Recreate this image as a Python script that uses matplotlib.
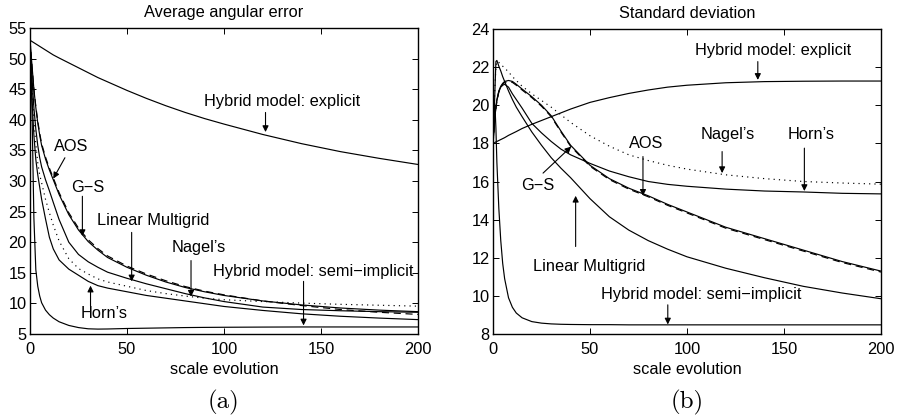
import matplotlib
matplotlib.use("Agg")
import matplotlib.pyplot as plt

plt.rcParams['font.family'] = ['Liberation Sans', 'DejaVu Sans']

# ---------------- data ----------------
x = [0, 0.5, 1, 1.5, 2, 3, 4, 5, 6, 8, 10, 12, 15, 20, 25, 30, 35, 40,
     50, 60, 70, 80, 90, 100, 120, 140, 160, 180, 200]

# (a) Average angular error
aae_explicit = [53.0, 52.9, 52.8, 52.7, 52.6, 52.4, 52.2, 52.0, 51.8, 51.4, 51.0, 50.6, 50.1, 49.3, 48.5, 47.7, 46.9, 46.2,
                44.8, 43.5, 42.3, 41.2, 40.2, 39.3, 37.6, 36.1, 34.8, 33.7, 32.7]
aae_aos = [53.0, 51.0, 49.0, 47.0, 45.0, 42.0, 39.5, 37.5, 35.8, 33.6, 31.8, 30.2, 27.8, 24.5, 22.0, 20.1, 18.7, 17.5,
           15.9, 14.6, 13.5, 12.6, 11.9, 11.3, 10.4, 9.75, 9.25, 8.9, 8.65]
aae_gs = [53.0, 51.0, 49.0, 47.0, 45.0, 42.2, 39.8, 37.8, 36.1, 33.9, 32.1, 30.5, 28.1, 24.8, 22.3, 20.4, 18.95, 17.75,
          16.1, 14.8, 13.7, 12.75, 12.0, 11.4, 10.4, 9.65, 9.0, 8.55, 8.2]
aae_lm = [53.0, 50.0, 47.0, 44.5, 42.0, 38.5, 35.8, 33.8, 32.3, 30.2, 28.4, 26.5, 23.7, 20.0, 18.0, 16.8, 15.9, 15.1,
          14.1, 13.2, 12.4, 11.6, 10.9, 10.3, 9.4, 9.0, 8.8, 8.65, 8.55]
aae_nagel = [53.0, 49.0, 46.0, 43.0, 40.0, 36.0, 33.0, 31.0, 29.7, 27.0, 24.8, 22.8, 20.2, 17.3, 15.7, 14.8, 14.0, 13.5,
             12.8, 12.1, 11.6, 11.2, 10.85, 10.6, 10.3, 10.05, 9.85, 9.7, 9.55]
aae_horn = [53.0, 48.0, 44.0, 40.5, 37.5, 33.5, 31.0, 29.0, 27.0, 23.8, 20.8, 18.9, 17.1, 15.6, 14.6, 13.6, 12.9, 12.5,
            11.9, 11.3, 10.85, 10.4, 9.95, 9.5, 8.85, 8.3, 7.9, 7.6, 7.35]
aae_semi = [53.0, 48.0, 42.0, 33.0, 24.0, 15.5, 12.8, 11.2, 10.1, 8.9, 8.15, 7.6, 7.0, 6.4, 6.05, 5.85, 5.8, 5.82,
            5.9, 5.95, 6.0, 6.05, 6.08, 6.1, 6.13, 6.15, 6.15, 6.15, 6.15]

# (b) Standard deviation
sd_explicit = [17.95, 18.0, 18.05, 18.08, 18.1, 18.15, 18.2, 18.25, 18.3, 18.42, 18.52, 18.62, 18.78, 19.0, 19.2, 19.4, 19.6, 19.8,
               20.15, 20.4, 20.62, 20.8, 20.95, 21.05, 21.18, 21.24, 21.26, 21.27, 21.27]
sd_semi = [17.95, 19.7, 20.0, 18.8, 17.0, 14.6, 12.9, 11.7, 10.9, 9.9, 9.4, 9.1, 8.85, 8.65, 8.57, 8.53, 8.51, 8.5,
           8.49, 8.49, 8.48, 8.48, 8.48, 8.48, 8.48, 8.48, 8.48, 8.48, 8.48]
sd_lm = [17.95, 19.2, 20.8, 22.3, 22.35, 22.05, 21.8, 21.5, 21.25, 20.75, 20.3, 19.9, 19.4, 18.6, 17.9, 17.25, 16.7, 16.2,
         15.1, 14.15, 13.45, 12.9, 12.45, 12.05, 11.45, 10.95, 10.5, 10.15, 9.85]
sd_nagel = [17.95, 19.5, 21.0, 22.0, 22.3, 22.25, 22.15, 22.05, 21.95, 21.75, 21.5, 21.3, 21.0, 20.6, 20.25, 19.9, 19.5, 19.1,
            18.4, 17.85, 17.4, 17.1, 16.85, 16.65, 16.35, 16.15, 16.0, 15.92, 15.86]
sd_horn = [17.95, 18.8, 19.4, 19.9, 20.25, 20.7, 20.95, 21.05, 21.1, 20.95, 20.6, 20.3, 19.85, 19.05, 18.55, 18.1, 17.7, 17.4,
           16.95, 16.55, 16.25, 16.0, 15.85, 15.75, 15.6, 15.5, 15.45, 15.38, 15.35]
sd_aos = [17.95, 18.7, 19.4, 19.9, 20.3, 20.75, 21.0, 21.15, 21.25, 21.3, 21.25, 21.1, 20.85, 20.45, 20.0, 19.45, 18.65, 17.9,
          16.85, 16.15, 15.65, 15.25, 14.8, 14.4, 13.6, 13.0, 12.4, 11.8, 11.3]
sd_gs = [17.95, 18.6, 19.3, 19.8, 20.2, 20.7, 20.95, 21.1, 21.2, 21.25, 21.2, 21.05, 20.8, 20.4, 19.95, 19.4, 18.6, 17.85,
         16.8, 16.1, 15.6, 15.2, 14.75, 14.35, 13.55, 12.95, 12.35, 11.75, 11.25]

xticks = [0, 50, 100, 150, 200]
yticks_a = [5, 10, 15, 20, 25, 30, 35, 40, 45, 50, 55]
yticks_b = [8, 10, 12, 14, 16, 18, 20, 22, 24]

# annotations: (text, text_xy, arrow_start, arrow_tip)
ann_a = [
    ("Hybrid model: explicit", (130, 43.0), (121.4, 41.2), (121.4, 38.0)),
    ("AOS", (21.4, 35.7), (18.0, 33.8), (12.0, 30.4)),
    ("G\u2212S", (29.6, 28.9), (27.0, 27.5), (27.0, 21.0)),
    ("Linear Multigrid", (63.3, 23.6), (52.4, 21.6), (52.4, 13.6)),
    ("Nagel\u2019s", (87.0, 19.2), (83.0, 17.0), (83.0, 11.1)),
    ("Hybrid model: semi\u2212implicit", (146.0, 15.2), (141.0, 13.6), (141.0, 6.4)),
    ("Horn\u2019s", (38.0, 8.4), (31.2, 9.6), (31.2, 12.9)),
]
ann_b = [
    ("Hybrid model: explicit", (144.6, 22.86), (136.5, 22.29), (136.5, 21.33)),
    ("Nagel\u2019s", (120.8, 18.44), (118.1, 17.57), (118.1, 16.44)),
    ("Horn\u2019s", (163.8, 18.44), (160.5, 17.75), (160.5, 15.5)),
    ("AOS", (79.0, 17.97), (77.3, 17.31), (77.3, 15.25)),
    ("G\u2212S", (23.0, 15.77), (25.8, 16.44), (40.3, 17.83)),
    ("Linear Multigrid", (49.5, 11.54), (42.6, 12.59), (42.6, 15.25)),
    ("Hybrid model: semi\u2212implicit", (107.5, 10.06), (90.1, 9.53), (90.1, 8.5)),
]

# ---------------- figure ----------------
W, H = 898, 420
fig = plt.figure(figsize=(W / 100, H / 100), dpi=100)
ax1 = fig.add_axes([30 / W, 86 / H, 388 / W, 306 / H])
ax2 = fig.add_axes([493 / W, 86 / H, 388 / W, 305 / H])

LW = 0.85
dot = (0, (1, 3.5))
dash = (0, (6, 4))
FS = 11.8

def draw(ax, series):
    for y, ls in series:
        ax.plot(x, y, color='k', lw=LW, linestyle=ls, solid_capstyle='butt')

draw(ax1, [(aae_explicit, '-'), (aae_aos, '-'), (aae_lm, '-'), (aae_nagel, dot),
           (aae_horn, '-'), (aae_semi, '-'), (aae_gs, dash)])
draw(ax2, [(sd_explicit, '-'), (sd_semi, '-'), (sd_lm, '-'), (sd_nagel, dot),
           (sd_horn, '-'), (sd_aos, '-'), (sd_gs, dash)])

def style(ax, yticks, title):
    ax.set_xlim(0, 200)
    ax.set_ylim(yticks[0], yticks[-1])
    ax.set_xticks(xticks)
    ax.set_yticks(yticks)
    ax.tick_params(direction='in', top=True, right=True, length=4, width=0.7,
                   labelsize=FS, pad=6)
    ax.tick_params(axis='y', pad=2.5)
    for s in ax.spines.values():
        s.set_linewidth(1.0)
    ax.set_title(title, fontsize=FS, pad=8)
    ax.set_xlabel('scale evolution', fontsize=FS, labelpad=3)

style(ax1, yticks_a, 'Average angular error')
style(ax2, yticks_b, 'Standard deviation')

def annotate(ax, items):
    for txt, txy, a0, a1 in items:
        ax.text(txy[0], txy[1], txt, fontsize=FS, ha='center', va='center')
        ax.annotate('', xy=a1, xytext=a0,
                    arrowprops=dict(arrowstyle='-|>', color='k', lw=0.8,
                                    mutation_scale=9, shrinkA=0, shrinkB=0))

annotate(ax1, ann_a)
annotate(ax2, ann_b)

fig.text(224 / W, 1 - 402 / H, '(a)', fontfamily='cmr10', fontsize=18,
         ha='center', va='center')
fig.text(687 / W, 1 - 402 / H, '(b)', fontfamily='cmr10', fontsize=18,
         ha='center', va='center')

fig.savefig('out.png', dpi=100)
